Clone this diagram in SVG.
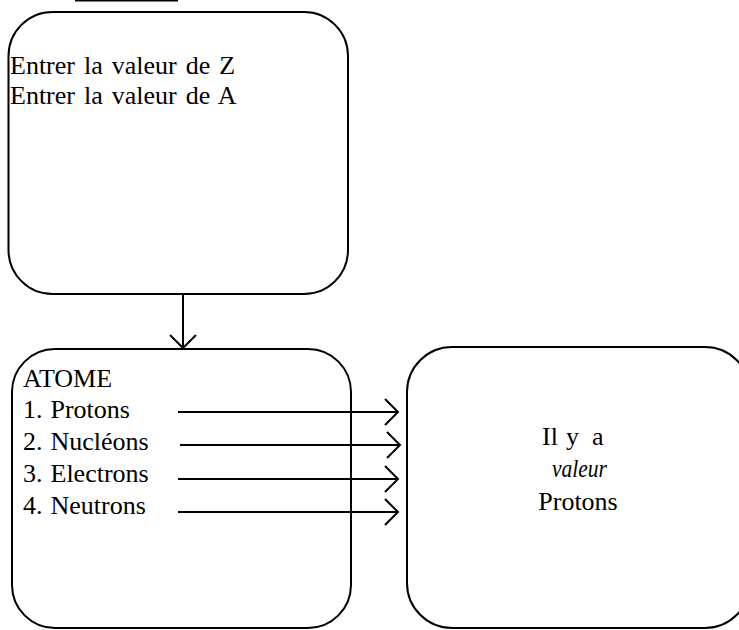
<svg xmlns="http://www.w3.org/2000/svg" width="739" height="630" viewBox="0 0 739 630">
<style>
.box{fill:#fff;stroke:#000;stroke-width:2}
.t{font-family:"Liberation Serif","Times New Roman",serif;font-size:26px;fill:#000}
.c{stroke:#000;stroke-width:2;fill:none}
</style>
<defs>
<marker id="ah" markerUnits="userSpaceOnUse" markerWidth="30" markerHeight="30" refX="14" refY="14" orient="auto" viewBox="0 0 30 30">
<path d="M1,1 L14,14 L1,27" fill="none" stroke="#000" stroke-width="2"/>
</marker>
</defs>
<rect width="739" height="630" fill="#fff"/>
<line x1="75" y1="0.7" x2="178" y2="0.7" stroke="#000" stroke-width="1.6"/>
<g id="saisie">
<rect class="box" x="8.5" y="12" width="339.5" height="282" rx="44" ry="44"/>
<text class="t" x="10" y="74" word-spacing="2.5">Entrer la valeur de Z</text>
<text class="t" x="10" y="104" word-spacing="2.5">Entrer la valeur de A</text>
</g>
<g id="atome">
<rect class="box" x="12" y="349" width="339" height="279" rx="43" ry="43"/>
<text class="t" x="23" y="387">ATOME</text>
<text class="t" x="23" y="418" word-spacing="1.5">1. Protons</text>
<text class="t" x="23" y="450" word-spacing="1.5">2. Nucléons</text>
<text class="t" x="23" y="482" word-spacing="1.5">3. Electrons</text>
<text class="t" x="23" y="514" word-spacing="1.5">4. Neutrons</text>
</g>
<g id="resultat">
<rect class="box" x="407" y="347" width="343" height="281" rx="45" ry="45"/>
<text class="t" x="542" y="445">Il <tspan x="566">y</tspan> <tspan x="592">a</tspan></text>
<text class="t" x="552" y="477" font-style="italic" font-size="20" textLength="55" lengthAdjust="spacingAndGlyphs">valeur</text>
<text class="t" x="578" y="510" text-anchor="middle">Protons</text>
</g>
<g id="connecteurs">
<line class="c" x1="183" y1="294" x2="183" y2="348" marker-end="url(#ah)"/>
<line class="c" x1="178" y1="412" x2="398" y2="412" marker-end="url(#ah)"/>
<line class="c" x1="180" y1="445" x2="400" y2="445" marker-end="url(#ah)"/>
<line class="c" x1="178" y1="479" x2="398" y2="479" marker-end="url(#ah)"/>
<line class="c" x1="178" y1="512" x2="398" y2="512" marker-end="url(#ah)"/>
</g>
</svg>
